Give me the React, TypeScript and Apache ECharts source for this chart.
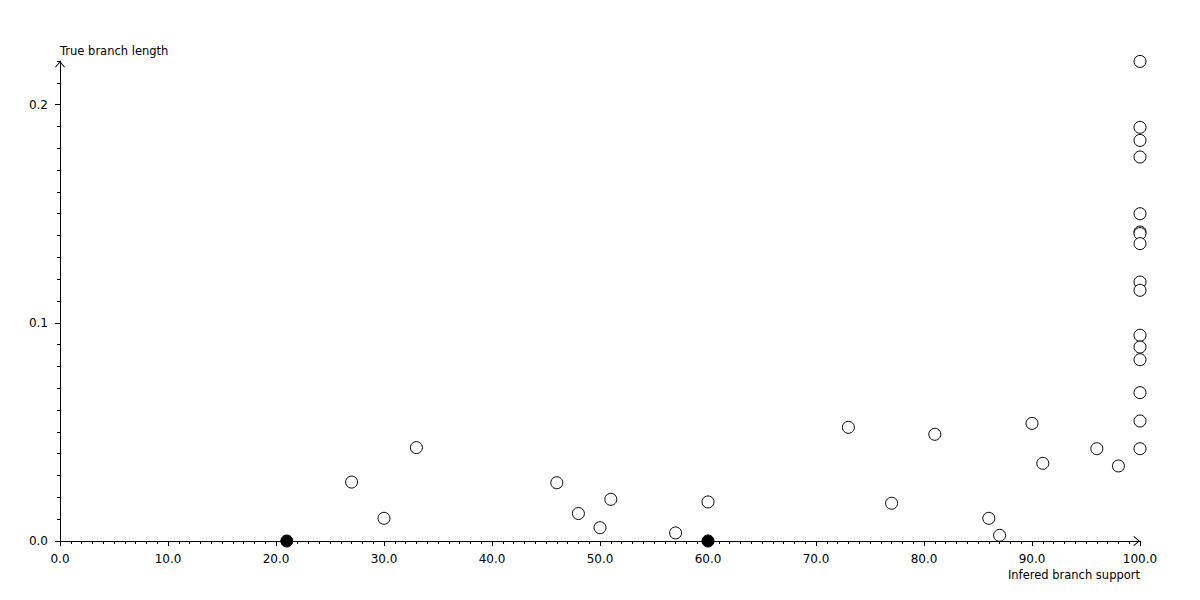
import React, { useEffect, useRef } from "react";
import * as echarts from "echarts";

// Open circles: inferred branch support (x) vs true branch length (y)
const openSupport = [
  27, 30, 33, 46, 48, 50, 51, 57, 60, 73, 77, 81, 86, 87, 90, 91, 96, 98,
  100, 100, 100, 100, 100, 100, 100, 100, 100, 100, 100, 100, 100, 100, 100, 100,
];
const openLength = [
  0.027, 0.0104, 0.0428, 0.0267, 0.0126, 0.0061, 0.0191, 0.0037, 0.0179,
  0.0521, 0.0173, 0.0489, 0.0104, 0.0026, 0.0539, 0.0356, 0.0423, 0.0344,
  0.2198, 0.1896, 0.1836, 0.176, 0.15, 0.1416, 0.1409, 0.1363, 0.1187, 0.1149,
  0.0943, 0.0889, 0.0831, 0.068, 0.055, 0.0423,
];
// Filled circles
const filledSupport = [21, 60];
const filledLength = [0, 0];

const xLabelValues = [0, 10, 20, 30, 40, 50, 60, 70, 80, 90, 100];
const yLabelValues = [0, 0.1, 0.2];
const xMin = 0;
const xMax = 100;
const yMin = 0;
const yMax = 0.22;

const xName = "Infered branch support";
const yName = "True branch length";

const FONT = "DejaVu Sans";
const ARROW = "path://M0,6 L5,0 L10,6 L9.2,6.6 L5,1.5 L0.8,6.6 Z";

export default function App() {
  const ref = useRef<HTMLDivElement>(null);
  useEffect(() => {
    if (!ref.current) return;
    const chart = echarts.init(ref.current, null, { renderer: "svg" });
    const openData = openSupport.map((x, i) => [x, openLength[i]]);
    const filledData = filledSupport.map((x, i) => [x, filledLength[i]]);
    const line = { color: "#000", width: 1 };
    chart.setOption({
      animation: false,
      backgroundColor: "#fff",
      grid: { left: 60, right: 60, top: 61, bottom: 59, containLabel: false },
      xAxis: [
        {
          type: "value",
          min: xMin,
          max: xMax,
          interval: 10,
          name: xName,
          nameLocation: "end",
          nameGap: 0,
          nameTextStyle: {
            fontFamily: FONT,
            fontSize: 11.5,
            color: "#000",
            align: "right",
            verticalAlign: "top",
            padding: [28, 0, 0, 0],
          },
          axisLine: {
            show: true,
            lineStyle: line,
            symbol: ["none", ARROW],
            symbolSize: [10, 6.6],
            symbolOffset: [0, -3.3],
          },
          axisTick: { show: true, length: 5, lineStyle: line },
          minorTick: { show: true, splitNumber: 10, length: 3, lineStyle: line },
          splitLine: { show: false },
          minorSplitLine: { show: false },
          axisLabel: {
            customValues: xLabelValues,
            formatter: (v: number) => v.toFixed(1),
            fontFamily: FONT,
            fontSize: 12,
            color: "#000",
            margin: 12,
          },
        },
      ],
      yAxis: [
        {
          type: "value",
          min: yMin,
          max: yMax,
          interval: 0.01,
          name: yName,
          nameLocation: "end",
          nameGap: 4,
          nameTextStyle: {
            fontFamily: FONT,
            fontSize: 11.5,
            color: "#000",
            align: "left",
            verticalAlign: "bottom",
          },
          axisLine: {
            show: true,
            lineStyle: line,
            symbol: ["none", ARROW],
            symbolSize: [10, 6.6],
            symbolOffset: [0, -3.3],
          },
          axisTick: { show: true, length: 3, lineStyle: line },
          splitLine: { show: false },
          axisLabel: {
            customValues: yLabelValues,
            formatter: (v: number) => v.toFixed(1),
            fontFamily: FONT,
            fontSize: 12,
            color: "#000",
            margin: 12,
          },
        },
        {
          type: "value",
          min: yMin,
          max: yMax,
          position: "left",
          axisLine: { show: false },
          axisTick: { show: true, length: 5, lineStyle: line, customValues: yLabelValues },
          axisLabel: { show: false },
          splitLine: { show: false },
        },
      ],
      series: [
        {
          type: "scatter",
          data: openData,
          clip: false,
          symbol: "circle",
          symbolSize: 12,
          itemStyle: { color: "#fff", borderColor: "#000", borderWidth: 1, opacity: 1 },
          emphasis: { disabled: true },
          z: 3,
        },
        {
          type: "scatter",
          data: filledData,
          clip: false,
          symbol: "circle",
          symbolSize: 12,
          itemStyle: { color: "#000", borderColor: "#000", borderWidth: 1, opacity: 1 },
          emphasis: { disabled: true },
          z: 4,
        },
      ],
    });
    return () => chart.dispose();
  }, []);
  return (
    <div
      ref={ref}
      style={{ position: "fixed", left: 0, top: 0, width: 1200, height: 600, background: "#fff" }}
    />
  );
}
